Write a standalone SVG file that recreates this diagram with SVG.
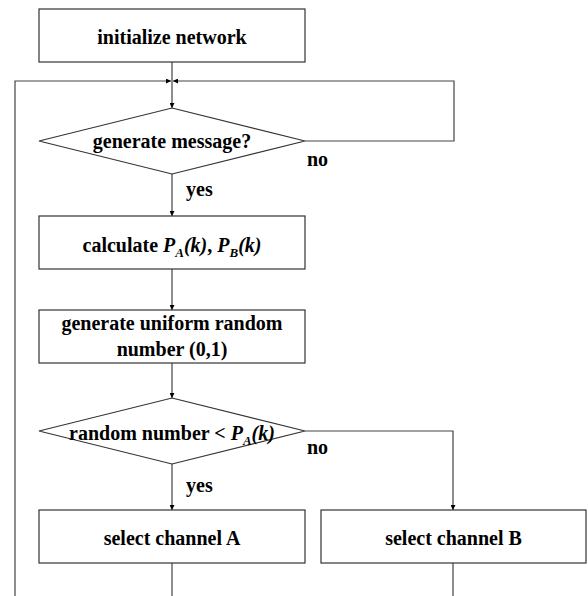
<svg xmlns="http://www.w3.org/2000/svg" width="588" height="596" viewBox="0 0 588 596">
<style>
.box{fill:#fff;stroke:#333;stroke-width:1.2}
.ln{fill:none;stroke:#444;stroke-width:1.2}
.t{font-family:"Liberation Serif","Times New Roman",serif;font-weight:bold;font-size:20px;fill:#000}
.c{text-anchor:middle}
.i{font-style:italic}
.s{font-size:13px}
</style>
<defs>
<marker id="ah" viewBox="0 0 10 10" refX="10" refY="5" markerWidth="5" markerHeight="5" orient="auto" markerUnits="userSpaceOnUse">
<path d="M0,0L10,5L0,10z" fill="#000"/>
</marker>
</defs>
<rect width="588" height="596" fill="#fff"/>
<g id="connectors">
<line class="ln" x1="172" y1="62" x2="172" y2="108" marker-end="url(#ah)"/>
<polyline class="ln" points="15,596 15,81 171,81" marker-end="url(#ah)"/>
<polyline class="ln" points="305,141 454,141 454,81 173,81" marker-end="url(#ah)"/>
<line class="ln" x1="172" y1="174" x2="172" y2="216" marker-end="url(#ah)"/>
<line class="ln" x1="172" y1="269" x2="172" y2="310" marker-end="url(#ah)"/>
<line class="ln" x1="172" y1="363" x2="172" y2="398" marker-end="url(#ah)"/>
<line class="ln" x1="172" y1="464" x2="172" y2="510" marker-end="url(#ah)"/>
<polyline class="ln" points="305,431 453,431 453,510" marker-end="url(#ah)"/>
<line class="ln" x1="172" y1="563" x2="172" y2="596"/>
<line class="ln" x1="453" y1="563" x2="453" y2="596"/>
<text class="t" x="186" y="196">yes</text>
<text class="t" x="307" y="166">no</text>
<text class="t" x="307" y="454">no</text>
<text class="t" x="186" y="492">yes</text>
</g>
<g id="init">
<rect class="box" x="39" y="9" width="266" height="53"/>
<text class="t c" x="172" y="44">initialize network</text>
</g>
<g id="genmsg">
<polygon class="box" points="172,108 305,141 172,174 39,141"/>
<text class="t c" x="172" y="148">generate message?</text>
</g>
<g id="calc">
<rect class="box" x="39" y="216" width="266" height="53"/>
<text class="t c" x="172" y="252">calculate <tspan class="i">P</tspan><tspan class="i s" dy="5">A</tspan><tspan class="i" dy="-5">(k)</tspan>, <tspan class="i">P</tspan><tspan class="i s" dy="5">B</tspan><tspan class="i" dy="-5">(k)</tspan></text>
</g>
<g id="genrand">
<rect class="box" x="39" y="310" width="266" height="53"/>
<text class="t c" x="172" y="330">generate uniform random</text>
<text class="t c" x="172" y="356">number (0,1)</text>
</g>
<g id="cmp">
<polygon class="box" points="172,398 305,431 172,464 39,431"/>
<text class="t c" x="172" y="440">random number &lt; <tspan class="i">P</tspan><tspan class="i s" dy="5">A</tspan><tspan class="i" dy="-5">(k)</tspan></text>
</g>
<g id="chA">
<rect class="box" x="39" y="510" width="266" height="53"/>
<text class="t c" x="172" y="545">select channel A</text>
</g>
<g id="chB">
<rect class="box" x="321" y="510" width="265" height="53"/>
<text class="t c" x="453.5" y="545">select channel B</text>
</g>
</svg>
